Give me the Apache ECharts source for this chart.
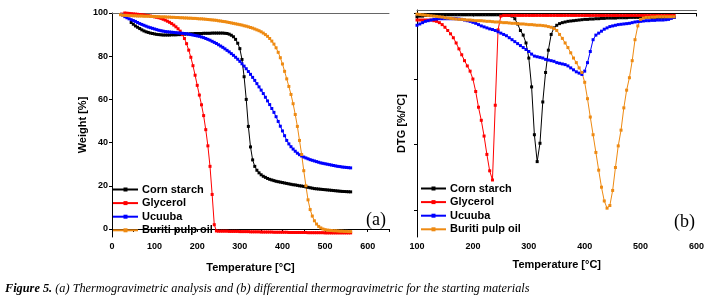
<!DOCTYPE html>
<html>
<head>
  <meta charset="utf-8">
  <script src="https://cdn.jsdelivr.net/npm/echarts@6.0.0/dist/echarts.min.js"></script>
</head>
<body style="margin:0;background:#fff">
  <div id="container" style="width:709px;height:304px"></div>
  <script>
    // series labels / colours
    var seriesNames = ['Corn starch', 'Glycerol', 'Ucuuba', 'Buriti pulp oil'];
    var seriesColors = ['#000000', '#ff0000', '#0000ff', '#ee8a12'];

    // temperatures are read every 5 °C
    var tempStep = 5;

    // (a) TGA, weight %
    var tgaStart = [45, 20, 20, 20];
    var cornStarchTga = [
      95.6, 94.8, 94.0, 93.4, 92.8, 92.2, 91.7, 91.3, 91.0, 90.7,
      90.5, 90.3, 90.1, 90.0, 89.9, 89.8, 89.8, 89.8, 89.8, 89.9,
      89.9, 89.9, 90.0, 90.0, 90.1, 90.2, 90.3, 90.3, 90.4, 90.4,
      90.5, 90.5, 90.5, 90.5, 90.6, 90.6, 90.6, 90.6, 90.7, 90.7,
      90.7, 90.7, 90.7, 90.7, 90.6, 90.5, 90.2, 89.7, 89.0, 87.8,
      86.0, 83.5, 78.5, 70.5, 60.0, 47.5, 38.0, 32.0, 29.0, 27.2,
      26.0, 25.1, 24.4, 23.9, 23.4, 23.0, 22.7, 22.4, 22.1, 21.9,
      21.7, 21.5, 21.3, 21.1, 20.9, 20.7, 20.5, 20.4, 20.2, 20.0,
      19.9, 19.7, 19.5, 19.3, 19.1, 18.9, 18.7, 18.6, 18.5, 18.4,
      18.3, 18.2, 18.1, 18.0, 17.9, 17.8, 17.7, 17.6, 17.5, 17.4,
      17.35, 17.3, 17.25, 17.2
    ];
    var glycerolTga = [
      100.4, 100.2, 100.0, 99.9, 99.8, 99.7, 99.6, 99.5, 99.4, 99.3,
      99.2, 99.1, 98.9, 98.8, 98.6, 98.4, 98.2, 98.0, 97.8, 97.5,
      97.1, 96.7, 96.2, 95.7, 95.1, 94.4, 93.6, 92.7, 91.6, 90.0,
      88.2, 85.8, 82.8, 79.5, 75.6, 71.2, 66.5, 62.0, 57.5, 52.5,
      46.0, 38.5, 29.0, 16.0, 2.0, -0.9, -1.0, -1.0, -1.0, -1.0,
      -1.0, -1.1, -1.1, -1.1, -1.1, -1.1, -1.2, -1.2, -1.2, -1.2,
      -1.2, -1.3, -1.3, -1.3, -1.3, -1.3, -1.4, -1.4, -1.4, -1.4,
      -1.4, -1.4, -1.5, -1.5, -1.5, -1.5, -1.5, -1.5, -1.5, -1.6,
      -1.6, -1.6, -1.6, -1.6, -1.6, -1.6, -1.6, -1.6, -1.7, -1.7,
      -1.7, -1.7, -1.7, -1.7, -1.7, -1.7, -1.8, -1.8, -1.8, -1.8,
      -1.8, -1.8, -1.8, -1.8, -1.8, -1.8, -1.8, -1.8, -1.8
    ];
    var ucuubaTga = [
      100.3, 99.0, 98.3, 97.8, 97.3, 96.9, 96.5, 96.1, 95.6, 95.1,
      94.7, 94.3, 93.9, 93.5, 93.2, 92.9, 92.6, 92.3, 92.0, 91.8,
      91.6, 91.4, 91.3, 91.2, 91.1, 91.0, 90.9, 90.8, 90.7, 90.6,
      90.5, 90.4, 90.2, 90.0, 89.8, 89.6, 89.4, 89.2, 88.9, 88.6,
      88.2, 87.8, 87.4, 86.9, 86.4, 85.9, 85.3, 84.7, 84.1, 83.4,
      82.7, 82.0, 81.2, 80.4, 79.5, 78.6, 77.6, 76.5, 75.4, 74.2,
      72.9, 71.6, 70.2, 68.8, 67.3, 65.8, 64.3, 62.7, 61.0, 59.3,
      57.6, 55.8, 54.0, 52.0, 49.8, 47.6, 45.4, 43.2, 41.0, 39.4,
      38.1, 37.0, 36.0, 35.1, 34.4, 33.8, 33.3, 32.9, 32.5, 32.1,
      31.8, 31.5, 31.2, 30.9, 30.6, 30.4, 30.2, 30.0, 29.8, 29.6,
      29.4, 29.2, 29.0, 28.9, 28.7, 28.6, 28.5, 28.4, 28.3
    ];
    var buritiTga = [
      99.2, 99.0, 98.9, 98.9, 98.8, 98.8, 98.7, 98.7, 98.6, 98.6,
      98.6, 98.5, 98.5, 98.5, 98.4, 98.4, 98.4, 98.3, 98.3, 98.2,
      98.2, 98.2, 98.1, 98.1, 98.0, 98.0, 97.9, 97.9, 97.8, 97.8,
      97.7, 97.7, 97.6, 97.6, 97.5, 97.5, 97.4, 97.3, 97.3, 97.2,
      97.1, 97.0, 96.9, 96.8, 96.7, 96.6, 96.4, 96.3, 96.1, 96.0,
      95.8, 95.6, 95.4, 95.2, 95.0, 94.8, 94.6, 94.4, 94.1, 93.9,
      93.6, 93.3, 93.0, 92.6, 92.2, 91.8, 91.3, 90.7, 90.0, 89.2,
      88.2, 87.0, 85.6, 83.9, 81.8, 79.3, 76.4, 73.0, 69.5, 66.0,
      62.3, 58.0, 53.0, 47.5, 41.0, 34.5, 27.0, 20.0, 13.5, 9.0,
      6.0, 3.8, 2.3, 1.2, 0.5, 0.0, -0.3, -0.5, -0.6, -0.7,
      -0.8, -0.8, -0.9, -1.0, -1.0, -1.1, -1.1, -1.2, -1.2
    ];

    // (b) DTG, %/°C
    var dtgStart = [100, 100, 100, 100];
    var cornStarchDtg = [
      -0.05, -0.04, -0.04, -0.03, -0.03, -0.03, -0.02, -0.02, -0.02, -0.02,
      -0.02, -0.02, -0.02, -0.02, -0.02, -0.02, -0.02, -0.02, -0.02, -0.02,
      -0.02, -0.02, -0.02, -0.02, -0.02, -0.02, -0.02, -0.02, -0.02, -0.02,
      -0.02, -0.02, -0.02, -0.03, -0.04, -0.08, -0.16, -0.26, -0.33, -0.45,
      -0.68, -1.12, -1.85, -2.26, -1.98, -1.35, -0.90, -0.56, -0.32, -0.22,
      -0.18, -0.155, -0.14, -0.13, -0.12, -0.115, -0.11, -0.105, -0.10, -0.095,
      -0.09, -0.09, -0.085, -0.085, -0.08, -0.08, -0.075, -0.075, -0.07, -0.07,
      -0.07, -0.07, -0.065, -0.065, -0.065, -0.065, -0.06, -0.06, -0.06, -0.06,
      -0.06, -0.06, -0.06, -0.06, -0.06, -0.06, -0.06, -0.06, -0.06, -0.06,
      -0.06, -0.06, -0.06
    ];
    var glycerolDtg = [
      -0.10, -0.10, -0.10, -0.10, -0.10, -0.10, -0.11, -0.12, -0.14, -0.17,
      -0.21, -0.26, -0.31, -0.37, -0.45, -0.54, -0.63, -0.72, -0.80, -0.88,
      -1.00, -1.19, -1.43, -1.63, -1.87, -2.15, -2.40, -2.54, -1.40, -0.25,
      -0.04, -0.03, -0.03, -0.03, -0.03, -0.03, -0.03, -0.03, -0.03, -0.03,
      -0.03, -0.03, -0.03, -0.03, -0.03, -0.03, -0.03, -0.03, -0.03, -0.03,
      -0.03, -0.03, -0.03, -0.03, -0.03, -0.03, -0.03, -0.03, -0.03, -0.03,
      -0.03, -0.03, -0.03, -0.03, -0.03, -0.03, -0.03, -0.03, -0.03, -0.03,
      -0.03, -0.03, -0.03, -0.03, -0.03, -0.03, -0.03, -0.03, -0.03, -0.03,
      -0.03, -0.03, -0.03, -0.03, -0.03, -0.03, -0.03, -0.03, -0.03, -0.03,
      -0.03, -0.03, -0.03
    ];
    var ucuubaDtg = [
      -0.18, -0.16, -0.14, -0.12, -0.11, -0.10, -0.09, -0.085, -0.08, -0.08,
      -0.08, -0.08, -0.08, -0.08, -0.08, -0.085, -0.09, -0.10, -0.11, -0.12,
      -0.135, -0.15, -0.17, -0.19, -0.205, -0.22, -0.235, -0.245, -0.26, -0.28,
      -0.30, -0.32, -0.34, -0.37, -0.40, -0.43, -0.46, -0.49, -0.52, -0.55,
      -0.58, -0.62, -0.65, -0.66, -0.67, -0.68, -0.70, -0.71, -0.72, -0.73,
      -0.75, -0.76, -0.77, -0.78, -0.80, -0.83, -0.86, -0.89, -0.91, -0.93,
      -0.88, -0.75, -0.58, -0.40, -0.33, -0.30, -0.27, -0.24, -0.22, -0.20,
      -0.19, -0.18, -0.17, -0.165, -0.16, -0.155, -0.15, -0.14, -0.13, -0.125,
      -0.12, -0.115, -0.11, -0.11, -0.105, -0.105, -0.10, -0.10, -0.10, -0.095,
      -0.09, -0.075, -0.06
    ];
    var buritiDtg = [
      -0.01, -0.015, -0.02, -0.025, -0.03, -0.035, -0.04, -0.045, -0.05, -0.055,
      -0.065, -0.07, -0.075, -0.08, -0.085, -0.09, -0.09, -0.095, -0.10, -0.10,
      -0.105, -0.11, -0.11, -0.11, -0.115, -0.12, -0.12, -0.125, -0.13, -0.13,
      -0.135, -0.14, -0.14, -0.145, -0.15, -0.15, -0.155, -0.16, -0.16, -0.165,
      -0.17, -0.17, -0.175, -0.18, -0.18, -0.185, -0.19, -0.20, -0.21, -0.23,
      -0.26, -0.32, -0.38, -0.45, -0.52, -0.60, -0.68, -0.75, -0.83, -0.90,
      -1.05, -1.30, -1.58, -1.85, -2.12, -2.39, -2.65, -2.86, -2.97, -2.93,
      -2.70, -2.35, -2.02, -1.78, -1.44, -1.17, -0.98, -0.72, -0.40, -0.19,
      -0.09, -0.07, -0.06, -0.06, -0.055, -0.055, -0.05, -0.05, -0.05, -0.05,
      -0.05, -0.05, -0.05
    ];

    // axis ticks / labels
    var tgaTempLabels = [0, 100, 200, 300, 400, 500, 600];
    var dtgTempLabels = [100, 200, 300, 400, 500, 600];
    var weightTicks = [0, 20, 40, 60, 80, 100];
    var dtgTicks = [0, -1, -2, -3];

    var tgaData = [cornStarchTga, glycerolTga, ucuubaTga, buritiTga];
    var dtgData = [cornStarchDtg, glycerolDtg, ucuubaDtg, buritiDtg];

    function toPairs(start, vals) {
      return vals.map(function (v, i) { return [start + i * tempStep, v]; });
    }

    var FONT = 'Liberation Sans, Arial, sans-serif';
    var axisBlack = { lineStyle: { color: '#000', width: 1 } };

    function tempAxis(gridIndex, min, max, labels, gap) {
      return {
        type: 'value', gridIndex: gridIndex, min: min, max: max, interval: 50,
        axisLine: axisBlack,
        axisTick: { show: true, inside: false, length: 3, lineStyle: { color: '#000' } },
        axisLabel: {
          margin: 5, fontSize: 9, fontWeight: 'bold', color: '#000', fontFamily: FONT,
          formatter: function (v) { return labels.indexOf(v) >= 0 ? v : ''; }
        },
        splitLine: { show: false },
        name: 'Temperature [°C]', nameLocation: 'middle', nameGap: gap,
        nameTextStyle: { fontSize: 11, fontWeight: 'bold', color: '#000', fontFamily: FONT }
      };
    }
    function topLine(gridIndex, min, max) {
      return {
        type: 'value', gridIndex: gridIndex, position: 'top', min: min, max: max,
        axisLine: { show: true, lineStyle: { color: '#666', width: 1 } },
        axisTick: { show: false }, axisLabel: { show: false }, splitLine: { show: false }
      };
    }

    var series = [];
    seriesNames.forEach(function (name, i) {
      series.push({
        type: 'line', name: name, xAxisIndex: 0, yAxisIndex: 0,
        data: toPairs(tgaStart[i], tgaData[i]),
        symbol: 'rect', symbolSize: 3, showSymbol: true,
        itemStyle: { color: seriesColors[i] },
        lineStyle: { color: seriesColors[i], width: 1 }
      });
    });
    seriesNames.forEach(function (name, i) {
      series.push({
        type: 'line', name: name, xAxisIndex: 2, yAxisIndex: 1,
        data: toPairs(dtgStart[i], dtgData[i]),
        symbol: 'rect', symbolSize: 3, showSymbol: true,
        itemStyle: { color: seriesColors[i] },
        lineStyle: { color: seriesColors[i], width: 1 }
      });
    });

    function legendAt(left, top) {
      return {
        orient: 'vertical', left: left, top: top, padding: 0,
        itemWidth: 25, itemHeight: 5, itemGap: 2.6, selectedMode: false,
        data: seriesNames,
        textStyle: { fontSize: 11, fontWeight: 'bold', color: '#000', fontFamily: FONT, lineHeight: 11, padding: [0, 0, 0, -1] }
      };
    }

    var dom = document.getElementById('container');
    var myChart = echarts.init(dom, null, { renderer: 'canvas' });

    var option = {
      animation: false,
      backgroundColor: '#fff',
      grid: [
        { left: 112, top: 13, width: 277, height: 224 },
        { left: 417, top: 10, width: 279.5, height: 227 }
      ],
      xAxis: [
        tempAxis(0, 0, 650, tgaTempLabels, 25),
        topLine(0, 0, 650),
        tempAxis(1, 100, 600, dtgTempLabels, 22),
        topLine(1, 100, 600)
      ],
      yAxis: [
        {
          type: 'value', gridIndex: 0, min: -3.7, max: 100,
          axisLine: { show: true, lineStyle: { color: '#000' } },
          axisTick: { show: true, length: 3, customValues: weightTicks, lineStyle: { color: '#000' } },
          axisLabel: { customValues: weightTicks, margin: 4, fontSize: 9, fontWeight: 'bold', color: '#000', fontFamily: FONT },
          splitLine: { show: false },
          name: 'Weight [%]', nameLocation: 'middle', nameGap: 24,
          nameTextStyle: { fontSize: 11, fontWeight: 'bold', color: '#000', fontFamily: FONT }
        },
        {
          type: 'value', gridIndex: 1, min: -3.41, max: 0.053,
          axisLine: { show: true, lineStyle: { color: '#000' } },
          axisTick: { show: true, length: 3, customValues: dtgTicks, lineStyle: { color: '#000' } },
          axisLabel: { show: false },
          splitLine: { show: false },
          name: 'DTG [%/°C]', nameLocation: 'middle', nameGap: 10,
          nameTextStyle: { fontSize: 11, fontWeight: 'bold', color: '#000', fontFamily: FONT }
        }
      ],
      legend: [legendAt(112, 184), legendAt(420, 183)],
      series: series,
      graphic: [
        { type: 'text', left: 366, top: 211, style: { text: '(a)', font: '18px "Liberation Serif", serif', fill: '#000' } },
        { type: 'text', left: 674, top: 213, style: { text: '(b)', font: '18px "Liberation Serif", serif', fill: '#000' } },
        {
          type: 'text', left: 5, top: 283,
          style: {
            text: '{b|Figure 5.} (a) Thermogravimetric analysis and (b) differential thermogravimetric for the starting materials',
            font: 'italic 12.3px "Liberation Serif", serif', fill: '#000',
            rich: { b: { fontWeight: 'bold', fontStyle: 'italic', fontSize: 12.3, fontFamily: 'Liberation Serif' } }
          }
        }
      ]
    };

    myChart.setOption(option);
    window.addEventListener('resize', myChart.resize);
  </script>
</body>
</html>
